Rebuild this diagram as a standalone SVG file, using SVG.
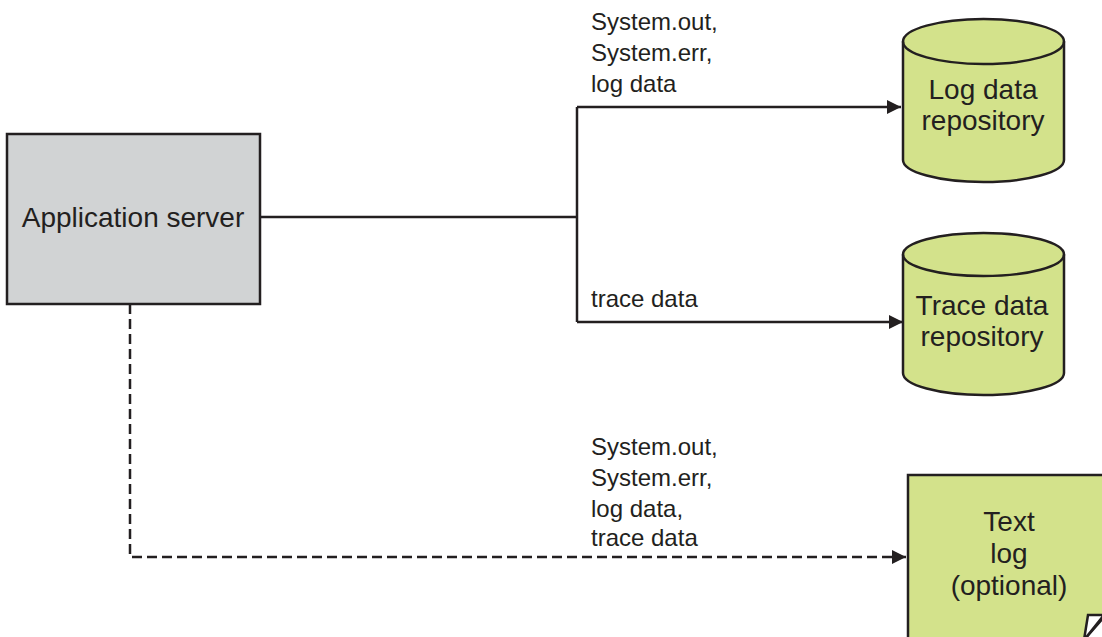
<svg xmlns="http://www.w3.org/2000/svg" width="1102" height="637" viewBox="0 0 1102 637">
<style>
text{font-family:"Liberation Sans",Arial,sans-serif;font-size:24px;fill:#231f20}
.c{text-anchor:middle;font-size:28px}
.node{stroke:#231f20;stroke-width:2.5}
.green{fill:#d3e28b}
.conn{fill:none;stroke:#231f20;stroke-width:2.5}
.dash{stroke-dasharray:10 5}
</style>
<defs>
<marker id="ah" markerWidth="14" markerHeight="14" refX="14" refY="7" orient="auto" markerUnits="userSpaceOnUse">
<path d="M0,0 L14,7 L0,14 Z" fill="#231f20"/>
</marker>
</defs>
<rect width="1102" height="637" fill="#fff"/>
<g id="connectors">
<path class="conn" d="M260,217 H577"/>
<path class="conn" d="M577,107 V322"/>
<path class="conn" d="M577,107 H901" marker-end="url(#ah)"/>
<path class="conn" d="M577,322 H903" marker-end="url(#ah)"/>
<path class="conn dash" d="M130,304 V557 H906" marker-end="url(#ah)"/>
<text x="591" y="30">System.out,</text>
<text x="591" y="61">System.err,</text>
<text x="591" y="92">log data</text>
<text x="591" y="307">trace data</text>
<text x="591" y="455">System.out,</text>
<text x="591" y="486">System.err,</text>
<text x="591" y="517">log data,</text>
<text x="591" y="546">trace data</text>
</g>
<g id="app-server">
<rect class="node" x="7" y="134" width="253" height="170" fill="#d1d3d4"/>
<text class="c" x="133" y="227">Application server</text>
</g>
<g id="log-repo">
<path class="node green" d="M903,41.5 V160 A80.5,22 0 0 0 1064,160 V41.5 A80.5,22.5 0 0 0 903,41.5 Z"/>
<path class="node" fill="none" d="M903,41.5 A80.5,22.5 0 0 0 1064,41.5"/>
<text class="c" x="983" y="99">Log data</text>
<text class="c" x="983" y="130">repository</text>
</g>
<g id="trace-repo">
<path class="node green" d="M903,254.5 V373 A80.5,22 0 0 0 1064,373 V254.5 A80.5,21.5 0 0 0 903,254.5 Z"/>
<path class="node" fill="none" d="M903,254.5 A80.5,21.5 0 0 0 1064,254.5"/>
<text class="c" x="982" y="315">Trace data</text>
<text class="c" x="982" y="346">repository</text>
</g>
<g id="text-log">
<path class="node green" d="M908,475 H1104 V617 L1084,640 H908 Z"/>
<path class="node" fill="#fff" d="M1088,615 L1104,615 L1084,640 Z"/>
<text class="c" x="1009" y="531">Text</text>
<text class="c" x="1009" y="563">log</text>
<text class="c" x="1009" y="595">(optional)</text>
</g>
</svg>
